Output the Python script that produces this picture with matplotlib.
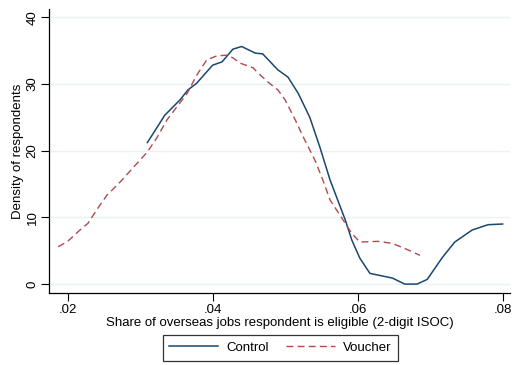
import matplotlib
matplotlib.use("Agg")
import matplotlib.pyplot as plt

control_x = [0.0310, 0.0334, 0.0355, 0.0366, 0.0378, 0.0400, 0.0413, 0.0428, 0.0440, 0.0459,
             0.0469, 0.0490, 0.0504, 0.0518, 0.0534, 0.0548, 0.0562, 0.0583, 0.0592, 0.0603,
             0.0617, 0.0648, 0.0665, 0.0682, 0.0696, 0.0717, 0.0734, 0.0758, 0.0780, 0.0800]
control_y = [21.2, 25.3, 27.6, 29.1, 30.1, 32.8, 33.3, 35.2, 35.6, 34.6,
             34.5, 32.1, 31.0, 28.6, 25.0, 20.5, 15.6, 9.6, 6.6, 3.9,
             1.6, 0.9, 0.0, 0.0, 0.7, 4.0, 6.3, 8.1, 8.9, 9.0]

voucher_x = [0.0187, 0.0200, 0.0217, 0.0228, 0.0240, 0.0254, 0.0268, 0.0275, 0.0310, 0.0323,
             0.0337, 0.0351, 0.0365, 0.0378, 0.0392, 0.0406, 0.0420, 0.0428, 0.0438, 0.0456,
             0.0461, 0.0476, 0.0490, 0.0500, 0.0514, 0.0527, 0.0541, 0.0552, 0.0562, 0.0580,
             0.0592, 0.0603, 0.0628, 0.0648, 0.0670, 0.0686]
voucher_y = [5.6, 6.4, 8.1, 9.1, 11.1, 13.3, 14.8, 15.6, 19.8, 21.9,
             24.6, 26.6, 28.6, 31.3, 33.6, 34.2, 34.3, 33.9, 33.1, 32.4,
             31.8, 30.3, 29.1, 27.6, 24.6, 21.6, 18.6, 15.6, 12.6, 9.6,
             7.6, 6.3, 6.4, 6.1, 5.1, 4.3]

x_ticks = [0.02, 0.04, 0.06, 0.08]
x_tick_labels = [".02", ".04", ".06", ".08"]
y_ticks = [0, 10, 20, 30, 40]
y_tick_labels = ["0", "10", "20", "30", "40"]

plt.rcParams['font.family'] = ['Liberation Sans', 'DejaVu Sans']

fig = plt.figure(figsize=(5.15, 3.65), dpi=100)
ax = fig.add_axes([0.095, 0.197, 0.895, 0.778])

ax.plot(control_x, control_y, color="#1a476f", lw=1.1, label="Control")
ax.plot(voucher_x, voucher_y, color="#b04a4f", lw=1.0, ls=(0, (5, 3)), label="Voucher")

ax.set_xlim(0.01742, 0.0810)
ax.set_ylim(-1.35, 41.2)
ax.set_xticks(x_ticks)
ax.set_xticklabels(x_tick_labels)
ax.set_yticks(y_ticks)
ax.set_yticklabels(y_tick_labels, rotation=90, va="center")
ax.tick_params(labelsize=9.5, length=5.5, width=0.8, color="black", direction="out", pad=2)
for t in ax.get_yticklabels():
    t.set_va("center")
ax.yaxis.grid(True, color="#eaf2f3", lw=1.0)
ax.set_axisbelow(True)
for s in ["top", "right"]:
    ax.spines[s].set_visible(False)
for s in ["left", "bottom"]:
    ax.spines[s].set_linewidth(0.9)

ax.set_xlabel("Share of overseas jobs respondent is eligible (2-digit ISOC)", fontsize=9.5, labelpad=1)
ax.set_ylabel("Density of respondents", fontsize=9.5, labelpad=2)

leg = fig.legend(loc="center", bbox_to_anchor=(0.544, 0.047), ncol=2, fontsize=9.5,
                 frameon=True, fancybox=False, edgecolor="black", handlelength=3.7,
                 columnspacing=1.3, borderpad=0.5, handletextpad=0.6)
leg.get_frame().set_linewidth(0.9)

fig.savefig("out.png", dpi=100, facecolor="white")
